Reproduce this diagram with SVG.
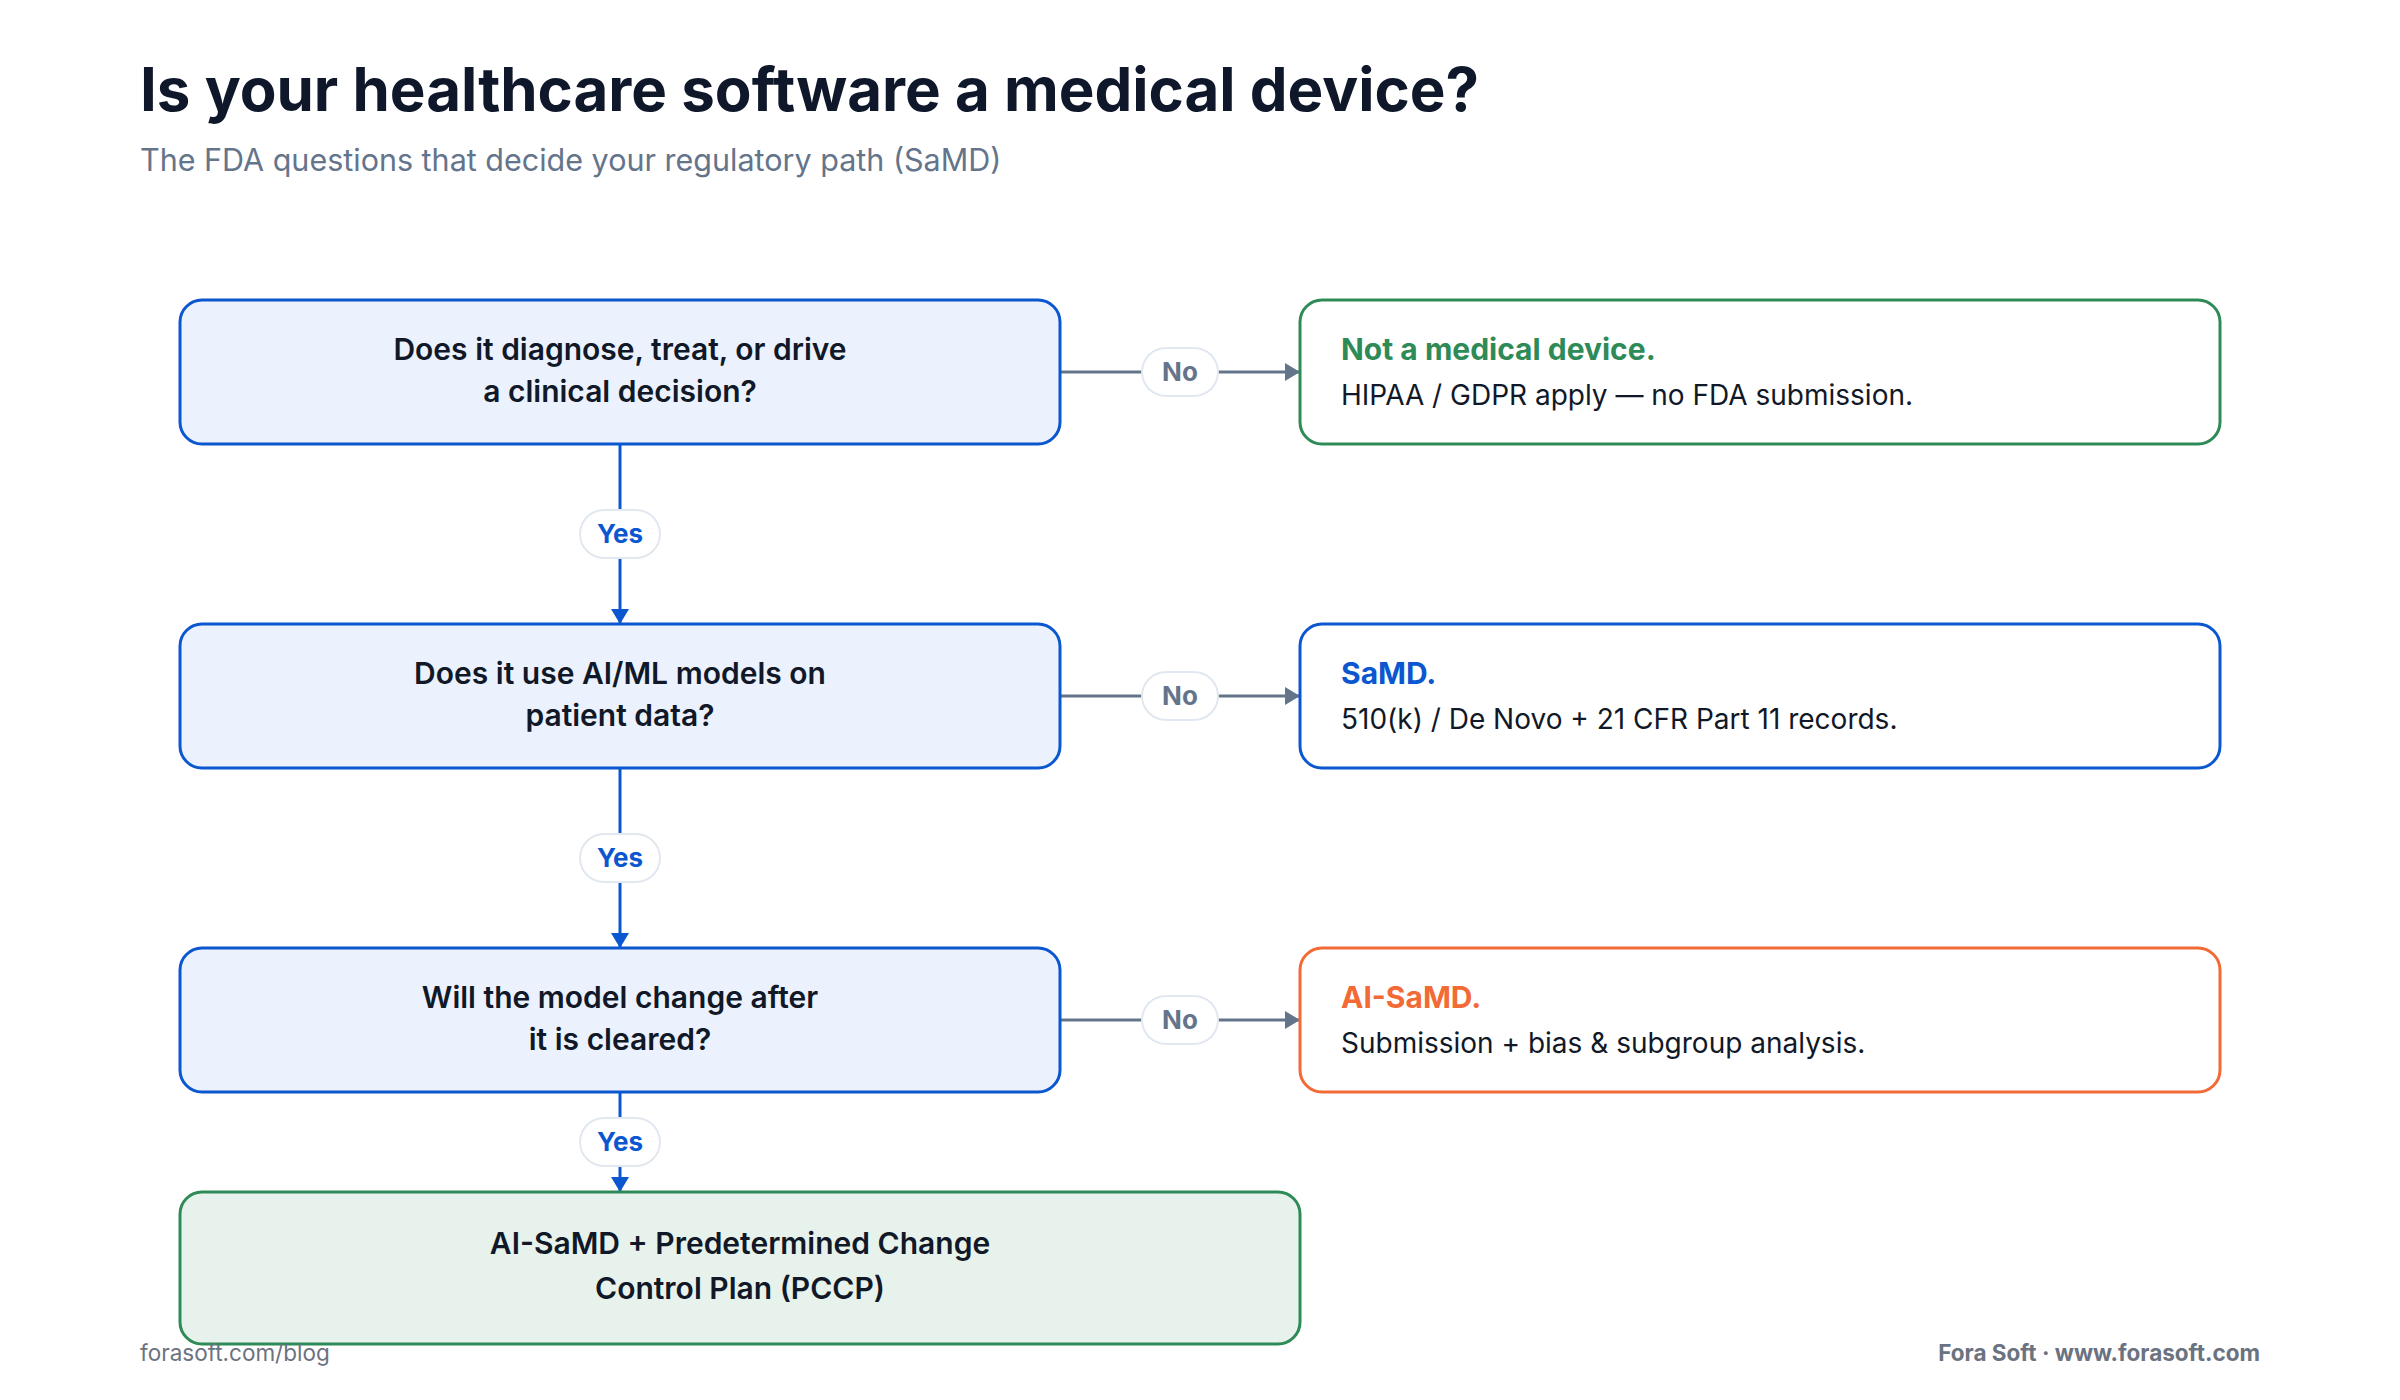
<svg xmlns="http://www.w3.org/2000/svg" width="2400" height="1400" viewBox="0 0 2400 1400">
<defs>
<marker id="arrGray" viewBox="0 0 10 12" refX="10" refY="6" markerWidth="5" markerHeight="6" markerUnits="strokeWidth" orient="auto"><path d="M0,0 L10,6 L0,12 z" fill="#64748b"/></marker>
<marker id="arrBlue" viewBox="0 0 10 12" refX="10" refY="6" markerWidth="5" markerHeight="6" markerUnits="strokeWidth" orient="auto"><path d="M0,0 L10,6 L0,12 z" fill="#0b57d0"/></marker>
<style>
text{font-family:Inter,"Liberation Sans",sans-serif}
.title{font-size:60px;font-weight:700;fill:#0f172a}
.sub{font-size:30.5px;font-weight:400;fill:#64748b}
.q{fill:#ebf2fe;stroke:#0b57d0;stroke-width:3}
.qt{font-size:30px;font-weight:600;fill:#111827;text-anchor:middle}
.r{fill:#ffffff;stroke-width:3}
.rt{font-size:30px;font-weight:700}
.rb{font-size:28px;font-weight:400;fill:#111827}
.fin{fill:#e8f2ec;stroke:#2e8b57;stroke-width:3}
.lineN{stroke:#64748b;stroke-width:3;fill:none;marker-end:url(#arrGray)}
.lineY{stroke:#0b57d0;stroke-width:3;fill:none;marker-end:url(#arrBlue)}
.pill{fill:#ffffff;stroke:#e2e8f0;stroke-width:2}
.pn{font-size:26px;font-weight:700;fill:#64748b;text-anchor:middle}
.py{font-size:26px;font-weight:700;fill:#0b57d0;text-anchor:middle}
.foot{font-size:22.5px;fill:#6b7280}
</style>
</defs>
<rect width="2400" height="1400" fill="#ffffff"/>
<text class="title" x="140" y="111">Is your healthcare software a medical device?</text>
<text class="sub" x="140" y="171">The FDA questions that decide your regulatory path (SaMD)</text>

<g id="connectors">
<line class="lineN" x1="1060" y1="372" x2="1300" y2="372"/>
<line class="lineN" x1="1060" y1="696" x2="1300" y2="696"/>
<line class="lineN" x1="1060" y1="1020" x2="1300" y2="1020"/>
<line class="lineY" x1="620" y1="444" x2="620" y2="624"/>
<line class="lineY" x1="620" y1="768" x2="620" y2="948"/>
<line class="lineY" x1="620" y1="1092" x2="620" y2="1192"/>
<rect class="pill" x="1142" y="348" width="76" height="48" rx="24"/>
<text class="pn" x="1180" y="381">No</text>
<rect class="pill" x="1142" y="672" width="76" height="48" rx="24"/>
<text class="pn" x="1180" y="705">No</text>
<rect class="pill" x="1142" y="996" width="76" height="48" rx="24"/>
<text class="pn" x="1180" y="1029">No</text>
<rect class="pill" x="580" y="510" width="80" height="48" rx="24"/>
<text class="py" x="620" y="543">Yes</text>
<rect class="pill" x="580" y="834" width="80" height="48" rx="24"/>
<text class="py" x="620" y="867">Yes</text>
<rect class="pill" x="580" y="1118" width="80" height="48" rx="24"/>
<text class="py" x="620" y="1151">Yes</text>
</g>

<g id="q1">
<rect class="q" x="180" y="300" width="880" height="144" rx="22"/>
<text class="qt" x="620" y="360">Does it diagnose, treat, or drive</text>
<text class="qt" x="620" y="402">a clinical decision?</text>
</g>
<g id="q2">
<rect class="q" x="180" y="624" width="880" height="144" rx="22"/>
<text class="qt" x="620" y="684">Does it use AI/ML models on</text>
<text class="qt" x="620" y="726">patient data?</text>
</g>
<g id="q3">
<rect class="q" x="180" y="948" width="880" height="144" rx="22"/>
<text class="qt" x="620" y="1008">Will the model change after</text>
<text class="qt" x="620" y="1050">it is cleared?</text>
</g>

<g id="r1">
<rect class="r" x="1300" y="300" width="920" height="144" rx="22" stroke="#2e8b57"/>
<text class="rt" x="1341" y="360" fill="#2e8b57">Not a medical device.</text>
<text class="rb" x="1341" y="405">HIPAA / GDPR apply — no FDA submission.</text>
</g>
<g id="r2">
<rect class="r" x="1300" y="624" width="920" height="144" rx="22" stroke="#0b57d0"/>
<text class="rt" x="1341" y="684" fill="#0b57d0">SaMD.</text>
<text class="rb" x="1341" y="729">510(k) / De Novo + 21 CFR Part 11 records.</text>
</g>
<g id="r3">
<rect class="r" x="1300" y="948" width="920" height="144" rx="22" stroke="#f26a35"/>
<text class="rt" x="1341" y="1008" fill="#f26a35">AI-SaMD.</text>
<text class="rb" x="1341" y="1053">Submission + bias &amp; subgroup analysis.</text>
</g>

<g id="final">
<rect class="fin" x="180" y="1192" width="1120" height="152" rx="22"/>
<text class="qt" x="740" y="1254">AI-SaMD + Predetermined Change</text>
<text class="qt" x="740" y="1299">Control Plan (PCCP)</text>
</g>

<text class="foot" x="140" y="1361">forasoft.com/blog</text>
<text class="foot" x="2260" y="1361" text-anchor="end" font-weight="700">Fora Soft · www.forasoft.com</text>
</svg>
